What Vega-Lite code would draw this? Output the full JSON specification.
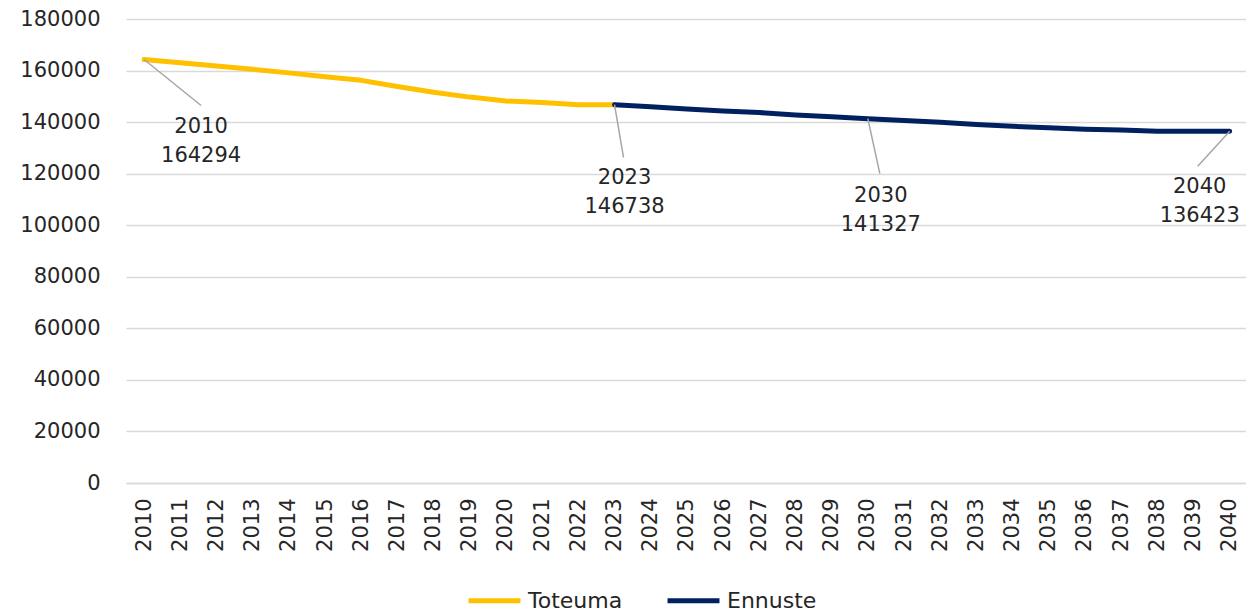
{
  "$schema": "https://vega.github.io/schema/vega-lite/v6.json",
  "autosize": {"type": "none"},
  "width": 1120,
  "height": 464,
  "padding": {"left": 126, "top": 19, "right": 0, "bottom": 132},
  "background": "white",
  "config": {
    "view": {"stroke": null},
    "font": "DejaVu Sans",
    "axis": {"labelFont": "DejaVu Sans", "labelColor": "#262626", "labelFontSize": 21}
  },
  "data": {
    "values": [
      {"year": 2010, "value": 164294, "series": "Toteuma"},
      {"year": 2011, "value": 163000, "series": "Toteuma"},
      {"year": 2012, "value": 161800, "series": "Toteuma"},
      {"year": 2013, "value": 160500, "series": "Toteuma"},
      {"year": 2014, "value": 159100, "series": "Toteuma"},
      {"year": 2015, "value": 157600, "series": "Toteuma"},
      {"year": 2016, "value": 156200, "series": "Toteuma"},
      {"year": 2017, "value": 153800, "series": "Toteuma"},
      {"year": 2018, "value": 151600, "series": "Toteuma"},
      {"year": 2019, "value": 149700, "series": "Toteuma"},
      {"year": 2020, "value": 148200, "series": "Toteuma"},
      {"year": 2021, "value": 147600, "series": "Toteuma"},
      {"year": 2022, "value": 146700, "series": "Toteuma"},
      {"year": 2023, "value": 146738, "series": "Toteuma"},
      {"year": 2023, "value": 146738, "series": "Ennuste"},
      {"year": 2024, "value": 146000, "series": "Ennuste"},
      {"year": 2025, "value": 145100, "series": "Ennuste"},
      {"year": 2026, "value": 144300, "series": "Ennuste"},
      {"year": 2027, "value": 143700, "series": "Ennuste"},
      {"year": 2028, "value": 142800, "series": "Ennuste"},
      {"year": 2029, "value": 142100, "series": "Ennuste"},
      {"year": 2030, "value": 141327, "series": "Ennuste"},
      {"year": 2031, "value": 140600, "series": "Ennuste"},
      {"year": 2032, "value": 139900, "series": "Ennuste"},
      {"year": 2033, "value": 139100, "series": "Ennuste"},
      {"year": 2034, "value": 138400, "series": "Ennuste"},
      {"year": 2035, "value": 137800, "series": "Ennuste"},
      {"year": 2036, "value": 137200, "series": "Ennuste"},
      {"year": 2037, "value": 136900, "series": "Ennuste"},
      {"year": 2038, "value": 136500, "series": "Ennuste"},
      {"year": 2039, "value": 136500, "series": "Ennuste"},
      {"year": 2040, "value": 136423, "series": "Ennuste"}
    ]
  },
  "encoding": {
    "x": {
      "field": "year", "type": "quantitative",
      "scale": {"domain": [2009.5, 2040.45], "nice": false, "zero": false},
      "axis": {
        "title": null,
        "values": [2010,2011,2012,2013,2014,2015,2016,2017,2018,2019,2020,2021,2022,2023,2024,2025,2026,2027,2028,2029,2030,2031,2032,2033,2034,2035,2036,2037,2038,2039,2040],
        "format": "d", "labelAngle": -90, "labelPadding": 15,
        "grid": false, "ticks": false, "domainColor": "#d9d9d9", "domainWidth": 1.5,
        "labelFontSize": 21
      }
    },
    "y": {
      "field": "value", "type": "quantitative",
      "scale": {"domain": [0, 180000], "nice": false},
      "axis": {
        "title": null,
        "values": [0,20000,40000,60000,80000,100000,120000,140000,160000,180000],
        "format": "d", "labelPadding": 26, "domain": false, "ticks": false,
        "gridColor": "#d9d9d9", "gridWidth": 1.5, "labelFontSize": 21
      }
    }
  },
  "layer": [
    {
      "mark": {"type": "line", "strokeWidth": 5, "strokeCap": "round", "strokeJoin": "round"},
      "encoding": {
        "color": {
          "field": "series", "type": "nominal",
          "scale": {"domain": ["Toteuma", "Ennuste"], "range": ["#FFC000", "#002060"]},
          "legend": {
            "title": null, "orient": "none", "direction": "horizontal",
            "legendX": 340, "legendY": 553, "padding": 0,
            "symbolType": "stroke", "symbolStrokeWidth": 5, "symbolSize": 2700,
            "labelFontSize": 22, "labelColor": "#262626", "labelOffset": 5,
            "columnPadding": 34, "labelFont": "DejaVu Sans"
          }
        }
      }
    },
    {
      "transform": [{"filter": "datum.series == 'Toteuma' && datum.year == 2010"}],
      "layer": [
        {"mark": {"type": "rule", "color": "#a6a6a6", "strokeWidth": 1.5, "x2Offset": 57, "y2Offset": 46},
         "encoding": {"x2": {"field": "year"}, "y2": {"field": "value"}}},
        {"transform": [{"calculate": "datum.year + '\\n' + datum.value", "as": "label"}],
         "mark": {"type": "text", "lineBreak": "\n", "fontSize": 21, "color": "#262626", "dx": 57, "dy": 68, "baseline": "middle", "align": "center", "lineHeight": 29},
         "encoding": {"text": {"field": "label"}}}
      ]
    },
    {
      "transform": [{"filter": "datum.series == 'Ennuste' && datum.year == 2023"}],
      "layer": [
        {"mark": {"type": "rule", "color": "#a6a6a6", "strokeWidth": 1.5, "x2Offset": 9, "y2Offset": 53},
         "encoding": {"x2": {"field": "year"}, "y2": {"field": "value"}}},
        {"transform": [{"calculate": "datum.year + '\\n' + datum.value", "as": "label"}],
         "mark": {"type": "text", "lineBreak": "\n", "fontSize": 21, "color": "#262626", "dx": 10, "dy": 73, "baseline": "middle", "align": "center", "lineHeight": 29},
         "encoding": {"text": {"field": "label"}}}
      ]
    },
    {
      "transform": [{"filter": "datum.series == 'Ennuste' && datum.year == 2030"}],
      "layer": [
        {"mark": {"type": "rule", "color": "#a6a6a6", "strokeWidth": 1.5, "x2Offset": 12, "y2Offset": 55},
         "encoding": {"x2": {"field": "year"}, "y2": {"field": "value"}}},
        {"transform": [{"calculate": "datum.year + '\\n' + datum.value", "as": "label"}],
         "mark": {"type": "text", "lineBreak": "\n", "fontSize": 21, "color": "#262626", "dx": 13, "dy": 77, "baseline": "middle", "align": "center", "lineHeight": 29},
         "encoding": {"text": {"field": "label"}}}
      ]
    },
    {
      "transform": [{"filter": "datum.series == 'Ennuste' && datum.year == 2040"}],
      "layer": [
        {"mark": {"type": "rule", "color": "#a6a6a6", "strokeWidth": 1.5, "x2Offset": -32, "y2Offset": 35},
         "encoding": {"x2": {"field": "year"}, "y2": {"field": "value"}}},
        {"transform": [{"calculate": "datum.year + '\\n' + datum.value", "as": "label"}],
         "mark": {"type": "text", "lineBreak": "\n", "fontSize": 21, "color": "#262626", "dx": -30, "dy": 56, "baseline": "middle", "align": "center", "lineHeight": 29},
         "encoding": {"text": {"field": "label"}}}
      ]
    }
  ]
}
